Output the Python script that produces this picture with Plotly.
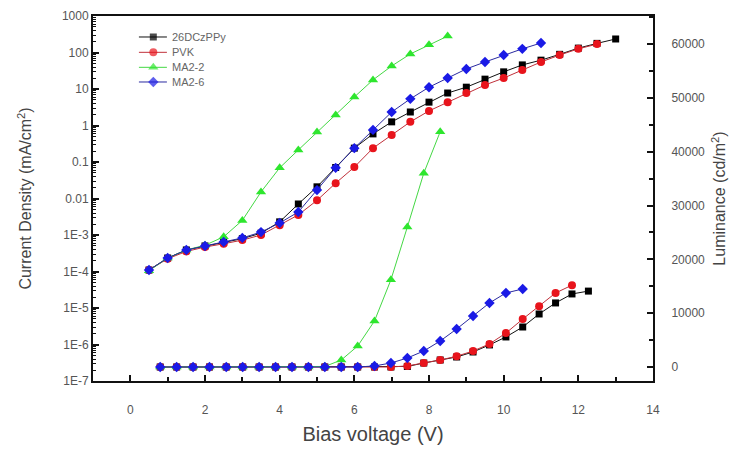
import plotly.graph_objects as go

# Current density data (log10 of mA/cm^2)
v_j_black = [0.5, 1.0, 1.5, 2.0, 2.5, 3.0, 3.5, 4.0, 4.5, 5.0, 5.5, 6.0, 6.5, 7.0, 7.5, 8.0, 8.5, 9.0, 9.5, 10.0, 10.5, 11.0, 11.5, 12.0, 12.5, 13.0]
logj_black = [-3.96, -3.63, -3.41, -3.30, -3.19, -3.10, -2.95, -2.64, -2.15, -1.68, -1.15, -0.62, -0.23, 0.10, 0.37, 0.64, 0.89, 1.05, 1.27, 1.47, 1.66, 1.79, 1.95, 2.12, 2.25, 2.37]

v_j_red = [0.5, 1.0, 1.5, 2.0, 2.5, 3.0, 3.5, 4.0, 4.5, 5.0, 5.5, 6.0, 6.5, 7.0, 7.5, 8.0, 8.5, 9.0, 9.5, 10.0, 10.5, 11.0, 11.5, 12.0, 12.5]
logj_red = [-3.96, -3.65, -3.45, -3.33, -3.24, -3.14, -3.00, -2.73, -2.45, -2.05, -1.58, -1.14, -0.62, -0.26, 0.10, 0.40, 0.64, 0.89, 1.11, 1.30, 1.52, 1.74, 1.93, 2.10, 2.23]

v_j_green = [0.5, 1.0, 1.5, 2.0, 2.5, 3.0, 3.5, 4.0, 4.5, 5.0, 5.5, 6.0, 6.5, 7.0, 7.5, 8.0, 8.5]
logj_green = [-3.98, -3.63, -3.41, -3.28, -3.05, -2.60, -1.82, -1.16, -0.67, -0.18, 0.29, 0.78, 1.25, 1.63, 1.96, 2.21, 2.45]

v_j_blue = [0.5, 1.0, 1.5, 2.0, 2.5, 3.0, 3.5, 4.0, 4.5, 5.0, 5.5, 6.0, 6.5, 7.0, 7.5, 8.0, 8.5, 9.0, 9.5, 10.0, 10.5, 11.0]
logj_blue = [-3.96, -3.63, -3.41, -3.30, -3.19, -3.08, -2.92, -2.67, -2.37, -1.77, -1.16, -0.62, -0.12, 0.37, 0.73, 1.05, 1.30, 1.55, 1.74, 1.93, 2.10, 2.26]

# Luminance data (cd/m^2)
v_l = [0.80, 1.24, 1.68, 2.12, 2.57, 3.01, 3.45, 3.89, 4.33, 4.77, 5.21, 5.65, 6.09, 6.54, 6.98, 7.42, 7.86, 8.30, 8.74, 9.18, 9.62, 10.06, 10.51, 10.95, 11.39, 11.83, 12.27]
lum_black = [0, 0, 0, 0, 0, 0, 0, 0, 0, 0, 0, 0, 0, 0, 0, 100, 740, 1300, 1860, 2790, 4100, 5580, 7430, 9850, 11900, 13570, 14100]
lum_red = [0, 0, 0, 0, 0, 0, 0, 0, 0, 0, 0, 0, 0, 0, 0, 200, 740, 1300, 2000, 2970, 4280, 6300, 8900, 11300, 13750, 15200]
lum_green = [0, 0, 0, 0, 0, 0, 0, 0, 0, 0, 100, 1300, 3900, 8550, 16200, 26000, 36000, 43700]
lum_blue = [0, 0, 0, 0, 0, 0, 0, 0, 0, 0, 0, 0, 0, 200, 740, 1670, 2970, 4830, 7060, 9480, 11900, 13750, 14500]

names = ["26DCzPPy", "PVK", "MA2-2", "MA2-6"]
colors = ["#000000", "#e8141c", "#2ee62e", "#1a1ae6"]
line_colors = ["#111111", "#c0303a", "#44d844", "#2a2aa0"]
symbols = ["square", "circle", "triangle-up", "diamond"]
msizes = [7, 8, 9, 8]

x_ticks = [0, 2, 4, 6, 8, 10, 12, 14]
y_ticks = [1e-7, 1e-6, 1e-5, 1e-4, 1e-3, 0.01, 0.1, 1, 10, 100, 1000]
y_tick_text = ["1E-7", "1E-6", "1E-5", "1E-4", "1E-3", "0.01", "0.1", "1", "10", "100", "1000"]
y2_ticks = [0, 10000, 20000, 30000, 40000, 50000, 60000]
y2_tick_text = ["0", "10000", "20000", "30000", "40000", "50000", "60000"]
y_minor = [m * 10 ** e for e in range(-7, 3) for m in range(2, 10)]

j_sets = [(v_j_black, logj_black), (v_j_red, logj_red), (v_j_green, logj_green), (v_j_blue, logj_blue)]
l_sets = [lum_black, lum_red, lum_green, lum_blue]

FONT = "Liberation Sans, Arial, sans-serif"
fig = go.Figure()
for i in range(4):
    vx, lj = j_sets[i]
    fig.add_trace(go.Scatter(
        x=vx, y=[10 ** v for v in lj], name=names[i], mode="lines+markers",
        line=dict(color=line_colors[i], width=1),
        marker=dict(symbol=symbols[i], size=msizes[i], color=colors[i], line=dict(width=0)),
        showlegend=False, yaxis="y"))
for i in range(4):
    lv = l_sets[i]
    fig.add_trace(go.Scatter(
        x=v_l[:len(lv)], y=lv, name=names[i], mode="lines+markers",
        line=dict(color=line_colors[i], width=1),
        marker=dict(symbol=symbols[i], size=msizes[i], color=colors[i], line=dict(width=0)),
        showlegend=False, yaxis="y2"))

# invisible trace holding the log minor-tick axis
fig.add_trace(go.Scatter(x=[0], y=[1], mode="markers", marker=dict(opacity=0),
                         showlegend=False, hoverinfo="skip", yaxis="y3"))

# hand-drawn legend (paper-fraction coordinates on hidden axes)
leg_y = [0.9425, 0.9005, 0.8594, 0.8192]
leg_x0, leg_x1, leg_xm, leg_xt = 0.082, 0.132, 0.1077, 0.138
for i in range(4):
    fig.add_trace(go.Scatter(
        x=[leg_x0, leg_xm, leg_x1], y=[leg_y[i]] * 3, mode="lines+markers",
        line=dict(color=line_colors[i], width=1),
        marker=dict(symbol=symbols[i], size=[0, msizes[i], 0], color=colors[i], line=dict(width=0)),
        showlegend=False, hoverinfo="skip", xaxis="x2", yaxis="y4"))
    fig.add_annotation(x=leg_xt, y=leg_y[i], xref="paper", yref="paper", text=names[i],
                       showarrow=False, xanchor="left", yanchor="middle",
                       font=dict(family=FONT, size=11, color="#666666"))

tickfont = dict(family=FONT, size=12, color="#555555")
titlefont = dict(family=FONT, size=16, color="#444444")

# page body has an 8px margin, so the figure is sized to fill the 739x450 window
fig.update_layout(
    width=731, height=442,
    margin=dict(l=85, r=86, t=8, b=69),
    paper_bgcolor="white", plot_bgcolor="white",
    showlegend=False,
    xaxis=dict(range=[-1, 14], tickvals=x_ticks, ticks="inside", ticklen=6,
               tickwidth=1.5, tickcolor="#111111",
               minor=dict(ticks="inside", ticklen=4, dtick=1, tickcolor="#111111", tickwidth=1.5),
               showline=True, linecolor="#111111", linewidth=2, mirror=True, showgrid=False,
               zeroline=False, tickfont=tickfont, automargin=False, ticklabelstandoff=17,
               title=dict(text="Bias voltage (V)", font=dict(family=FONT, size=20, color="#444444"), standoff=11)),
    xaxis2=dict(range=[0, 1], overlaying="x", visible=False),
    yaxis=dict(type="log", range=[-7, 3], tickvals=y_ticks, ticktext=y_tick_text,
               ticks="inside", ticklen=6, tickwidth=1.5, tickcolor="#111111",
               showline=True, linecolor="#111111", linewidth=2, showgrid=False,
               zeroline=False, tickfont=tickfont, automargin=False,
               title=dict(text="Current Density (mA/cm<sup>2</sup>)", font=titlefont, standoff=26)),
    yaxis3=dict(type="log", range=[-7, 3], overlaying="y", side="left", tickvals=y_minor,
                ticks="inside", ticklen=3, tickwidth=1, tickcolor="#111111",
                showticklabels=False, showline=False, showgrid=False, zeroline=False,
                automargin=False),
    yaxis4=dict(range=[0, 1], overlaying="y", visible=False),
    yaxis2=dict(overlaying="y", side="right", range=[-2600, 65200],
                tickvals=y2_ticks, ticktext=y2_tick_text,
                ticks="inside", ticklen=6, tickwidth=1.5, tickcolor="#111111",
                minor=dict(ticks="inside", ticklen=4, dtick=5000, tickcolor="#111111", tickwidth=1.5),
                showline=True, linecolor="#111111", linewidth=2, showgrid=False,
                zeroline=False, tickfont=tickfont, automargin=False, ticklabelstandoff=14,
                title=dict(text="Luminance (cd/m<sup>2</sup>)", font=titlefont, standoff=10)),
)

fig.write_html("out.html")
